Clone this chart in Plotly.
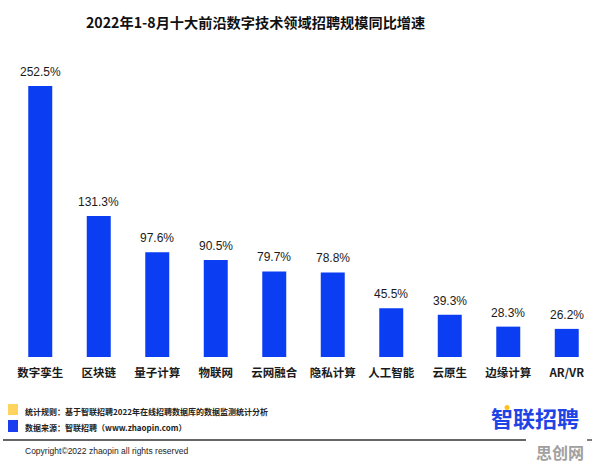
import plotly.graph_objects as go

# --- data ---
categories = ["数字孪生", "区块链", "量子计算", "物联网", "云网融合",
              "隐私计算", "人工智能", "云原生", "边缘计算", "AR/VR"]
growth = [252.5, 131.3, 97.6, 90.5, 79.7, 78.8, 45.5, 39.3, 28.3, 26.2]

title_text = "2022年1-8月十大前沿数字技术领域招聘规模同比增速"
rule_text = "统计规则：基于智联招聘2022年在线招聘数据库的数据监测统计分析"
source_text = "数据来源：智联招聘（www.zhaopin.com）"
copyright_text = "Copyright©2022 zhaopin all rights reserved"

# --- page geometry (pixels) ---
W, H = 596, 464
L, R, T, B = 11, 0, 60, 107
PW, PH = W - L - R, H - T - B

bar_blue = "#0B3DF2"
text_dark = "#1a1a1a"
cjk = "Noto Sans CJK SC"
latin = "Liberation Sans, Noto Sans CJK SC"


def px(x):
    return (x - L) / PW


def py(y):
    return (H - B - y) / PH


fig = go.Figure()
fig.add_trace(go.Bar(
    x=categories, y=growth,
    marker=dict(color=bar_blue, line=dict(width=0)),
    hoverinfo="skip", showlegend=False,
))

# value labels above bars
annotations = [
    dict(x=c, y=v, xref="x", yref="y", text=f"{v:.1f}%", showarrow=False,
         yanchor="bottom", yshift=5, font=dict(family=latin, size=12, color=text_dark))
    for c, v in zip(categories, growth)
]

# title
annotations.append(dict(x=px(255), y=py(22), xref="paper", yref="paper", text=title_text,
                        showarrow=False, xanchor="center", yanchor="middle",
                        font=dict(family=cjk, size=14.2, color="#111111", weight="bold")))

# footer notes
annotations += [
    dict(x=px(23), y=py(411), xref="paper", yref="paper", text=rule_text, showarrow=False,
         xanchor="left", yanchor="middle", font=dict(family=cjk, size=8, color="#222222", weight="bold")),
    dict(x=px(23), y=py(427), xref="paper", yref="paper", text=source_text, showarrow=False,
         xanchor="left", yanchor="middle", font=dict(family=cjk, size=8, color="#222222", weight="bold")),
    dict(x=px(23), y=py(451), xref="paper", yref="paper", text=copyright_text, showarrow=False,
         xanchor="left", yanchor="middle", font=dict(family=latin, size=8.5, color="#222222")),
    dict(x=px(581), y=py(417), xref="paper", yref="paper", text="智联招聘", showarrow=False,
         xanchor="right", yanchor="middle", font=dict(family=cjk, size=22, color="#1E44E6", weight="bold")),
    dict(x=px(586), y=py(452), xref="paper", yref="paper", text="思创网", showarrow=False,
         xanchor="right", yanchor="middle", font=dict(family=cjk, size=16, color="#a0a0a0", weight="bold")),
]

shapes = [
    dict(type="rect", xref="paper", yref="paper", x0=px(8), x1=px(18), y0=py(404), y1=py(415),
         fillcolor="#FFD45E", line=dict(width=0)),
    dict(type="rect", xref="paper", yref="paper", x0=px(8), x1=px(18), y0=py(420), y1=py(432),
         fillcolor="#1A3DF0", line=dict(width=0)),
    dict(type="line", xref="paper", yref="paper", x0=px(3), x1=px(526), y0=py(440), y1=py(440),
         line=dict(color="#333333", width=1.5)),
    dict(type="line", xref="paper", yref="paper", x0=px(587), x1=px(592), y0=py(440), y1=py(440),
         line=dict(color="#555555", width=1.5)),
    dict(type="circle", xref="paper", yref="paper", x0=px(504.5), x1=px(509.5), y0=py(405), y1=py(410),
         fillcolor="#FFC21A", line=dict(width=0)),
]

fig.update_layout(
    width=W, height=H,
    margin=dict(l=L, r=R, t=T, b=B),
    plot_bgcolor="#FFFFFF", paper_bgcolor="#FFFFFF",
    bargap=0.59,
    annotations=annotations, shapes=shapes,
    showlegend=False,
)
fig.update_xaxes(showgrid=False, zeroline=False, showline=False,
                 ticks="outside", ticklen=5, tickcolor="rgba(0,0,0,0)",
                 tickfont=dict(family=cjk, size=11.5, color=text_dark, weight="bold"),
                 fixedrange=True)
fig.update_yaxes(range=[0, 276.8], visible=False, fixedrange=True)

# drop the browser's default body margin so the figure sits at the page origin
fig.write_html("out.html", config={"displayModeBar": False},
               post_script="document.body.style.margin='0';")
